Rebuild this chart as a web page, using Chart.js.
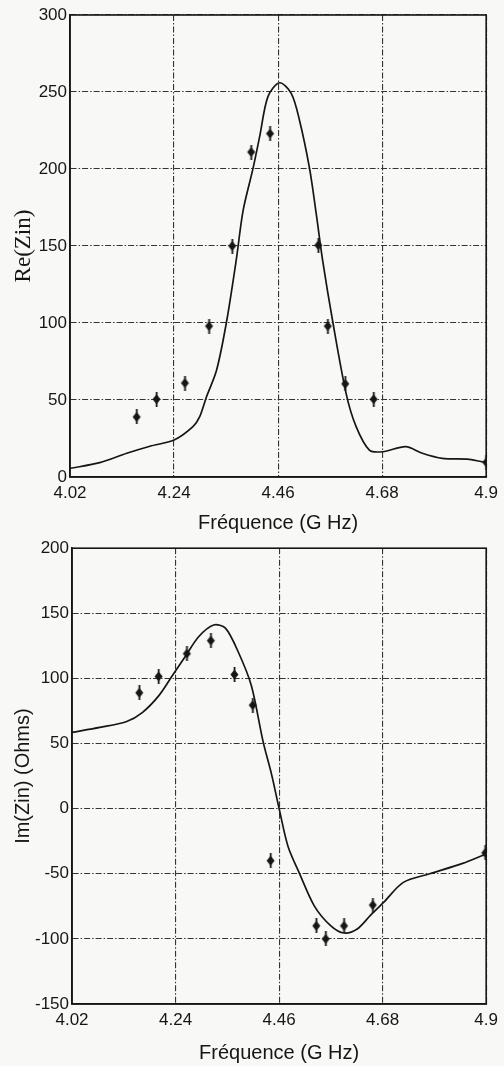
<!DOCTYPE html>
<html>
<head>
<meta charset="utf-8">
<script src="https://cdn.jsdelivr.net/npm/chart.js@4"></script>
<style>
  html, body { margin: 0; padding: 0; background: #f8f8f6; }
  canvas { display: block; }
</style>
</head>
<body>
<canvas id="chartRe" width="504" height="535"></canvas>
<canvas id="chartIm" width="504" height="531"></canvas>
<script>
// frequency axis (GHz)
const freqTicks = [4.02, 4.24, 4.46, 4.68, 4.9]

// Re(Zin): measured points and simulated curve
const reMeasFreq = [4.161, 4.203, 4.263, 4.314, 4.363, 4.403, 4.443, 4.545, 4.565, 4.602, 4.662, 4.9]
const reMeasVal = [39, 50.5, 61, 98, 150, 211, 223, 150.5, 98, 60.5, 50.5, 9.5]
const reSimFreq = [4.02, 4.083, 4.14, 4.189, 4.24, 4.28, 4.294, 4.3085, 4.33, 4.351, 4.372, 4.386, 4.407, 4.421, 4.4385, 4.463, 4.488, 4.505, 4.5265, 4.5406, 4.5545, 4.5756, 4.604, 4.625, 4.653, 4.681, 4.73, 4.765, 4.807, 4.864, 4.9]
const reSimVal = [5.6, 9.3, 15.4, 20, 24, 32.7, 39, 52, 69.5, 100.8, 142, 173, 200.4, 221, 247, 256, 249, 232, 200.4, 171, 140, 100.8, 54, 32.7, 17.5, 16.4, 19.7, 15.4, 12.1, 11.5, 9.3]
const reTicks = [0, 50, 100, 150, 200, 250, 300]

// Im(Zin): measured points and simulated curve
const imMeasFreq = [4.163, 4.204, 4.264, 4.315, 4.365, 4.404, 4.442, 4.539, 4.559, 4.598, 4.659, 4.898]
const imMeasVal = [89, 101.5, 119, 129, 103, 79.5, -40, -90, -100, -90, -74, -34]
const imSimFreq = [4.02, 4.079, 4.135, 4.17, 4.205, 4.233, 4.261, 4.289, 4.321, 4.346, 4.374, 4.401, 4.426, 4.444, 4.461, 4.479, 4.503, 4.535, 4.57, 4.598, 4.626, 4.654, 4.682, 4.724, 4.78, 4.85, 4.898]
const imSimVal = [58.6, 62.4, 66.7, 74, 87, 102, 117, 132, 141, 138.6, 119.7, 94.5, 51.5, 26.3, -1.5, -29, -49.5, -74.8, -90, -95.5, -92.4, -82, -72, -56.6, -50, -42, -35]
const imTicks = [-150, -100, -50, 0, 50, 100, 150, 200]

const ink = '#161616'
const sans = 'Liberation Sans, Arial, sans-serif'

// "+" marker with a fat centre, like the scanned plot
function makeMarker() {
    const c = document.createElement('canvas')
    c.width = 11
    c.height = 15
    const g = c.getContext('2d')
    g.fillStyle = ink
    g.fillRect(4.7, 0, 1.8, 15)
    g.beginPath()
    g.moveTo(5.5, 2.5)
    g.lineTo(9.5, 7.5)
    g.lineTo(5.5, 12.5)
    g.lineTo(1.5, 7.5)
    g.closePath()
    g.fill()
    return c
}
const marker = makeMarker()

function pairs(xs, ys) {
    return xs.map((x, i) => ({ x, y: ys[i] }))
}

function buildChart(id, opts) {
    const data = {
        datasets: [
            {
                data: pairs(opts.simFreq, opts.simVal),
                showLine: true,
                borderColor: ink,
                borderWidth: 1.7,
                pointRadius: 0,
                tension: 0.3
            },
            {
                data: pairs(opts.measFreq, opts.measVal),
                showLine: false,
                pointStyle: marker,
                pointRadius: 6
            }
        ]
    }

    const gridStyle = {
        color: '#333',
        lineWidth: 1.1,
        drawTicks: false
    }
    const gridBorder = { display: true, color: ink, width: 1.6, dash: [6, 2, 1.5, 2] }

    const options = {
        responsive: false,
        animation: false,
        layout: {
            padding: { top: opts.padTop, right: opts.padRight, left: 0, bottom: 0 }
        },
        plugins: {
            legend: { display: false },
            tooltip: { enabled: false }
        },
        scales: {
            x: {
                type: 'linear',
                min: 4.02,
                max: 4.9,
                afterBuildTicks: scale => { scale.ticks = freqTicks.map(v => ({ value: v })) },
                afterFit: scale => { scale.height = opts.xHeight },
                ticks: {
                    padding: 6,
                    color: ink,
                    font: { family: sans, size: 17 },
                    callback: v => String(v),
                    maxRotation: 0
                },
                grid: gridStyle,
                border: gridBorder,
                title: {
                    display: true,
                    text: 'Fréquence (G Hz)',
                    color: ink,
                    font: { family: sans, size: 20 },
                    padding: { top: 0, bottom: opts.xTitlePad }
                }
            },
            y: {
                min: opts.yTicks[0],
                max: opts.yTicks[opts.yTicks.length - 1],
                afterBuildTicks: scale => { scale.ticks = opts.yTicks.map(v => ({ value: v })) },
                afterFit: scale => { scale.width = opts.yWidth },
                ticks: {
                    padding: 3,
                    color: ink,
                    font: { family: sans, size: 17 }
                },
                grid: gridStyle,
                border: gridBorder,
                title: {
                    display: true,
                    text: opts.yTitle,
                    color: ink,
                    font: opts.yTitleFont,
                    padding: { top: opts.yTitlePad, bottom: 0 }
                }
            }
        }
    }

    return new Chart(id, { type: 'scatter', data, options })
}

// solid frame round the plot area
const frame = {
    id: 'frame',
    afterDatasetsDraw(chart) {
        const { ctx, chartArea: a } = chart
        ctx.save()
        ctx.setLineDash([])
        ctx.strokeStyle = ink
        ctx.lineWidth = 1.6
        ctx.strokeRect(a.left, a.top, a.right - a.left, a.bottom - a.top)
        ctx.restore()
    }
}
Chart.register(frame)

buildChart('chartRe', {
    simFreq: reSimFreq, simVal: reSimVal,
    measFreq: reMeasFreq, measVal: reMeasVal,
    yTicks: reTicks,
    yTitle: 'Re(Zin)',
    yTitleFont: { family: 'Liberation Serif, Times New Roman, serif', size: 23 },
    yTitlePad: 10,
    yWidth: 70,
    xHeight: 58,
    xTitlePad: 0,
    padTop: 15,
    padRight: 17
})

buildChart('chartIm', {
    simFreq: imSimFreq, simVal: imSimVal,
    measFreq: imMeasFreq, measVal: imMeasVal,
    yTicks: imTicks,
    yTitle: 'Im(Zin) (Ohms)',
    yTitleFont: { family: sans, size: 20 },
    yTitlePad: 11,
    yWidth: 72,
    xHeight: 62,
    xTitlePad: 1,
    padTop: 10,
    padRight: 14
})
</script>
</body>
</html>
